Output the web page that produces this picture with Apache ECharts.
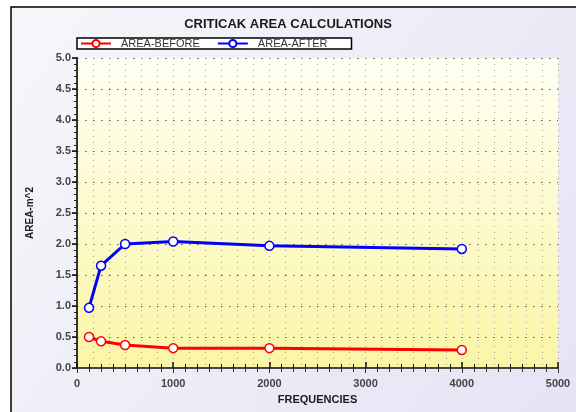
<!DOCTYPE html>
<html>
<head>
<meta charset="utf-8">
<script src="https://cdn.jsdelivr.net/npm/echarts@6/dist/echarts.min.js"></script>
<style>
  html, body { margin: 0; padding: 0; background: #fff; }
  #chart { width: 576px; height: 412px; }
</style>
</head>
<body>
<div id="chart"></div>
<script>
// octave band frequencies (Hz)
const freqs = [125, 250, 500, 1000, 2000, 4000]
// area values
const areaBefore = [0.50, 0.43, 0.37, 0.32, 0.32, 0.29]
const areaAfter = [0.97, 1.65, 2.00, 2.04, 1.97, 1.92]
const seriesNames = ['AREA-BEFORE', 'AREA-AFTER']
const seriesColors = ['#ff0000', '#0000ff']
const xTicks = [0, 1000, 2000, 3000, 4000, 5000]
const yTicks = [0, 0.5, 1, 1.5, 2, 2.5, 3, 3.5, 4, 4.5, 5]

const font = 'Liberation Sans, Arial, sans-serif'
const myChart = echarts.init(document.getElementById('chart'))

const makeSeries = (name, values, color) => ({
  name: name,
  type: 'line',
  data: freqs.map((f, i) => [f, values[i]]),
  lineStyle: {color: color, width: 3},
  symbol: 'circle',
  symbolSize: 9,
  itemStyle: {color: '#fff', borderColor: color, borderWidth: 1.5},
  z: 5
})

const option = {
  animation: false,
  backgroundColor: '#fff',
  graphic: [
    {
      type: 'rect',
      z: -100,
      silent: true,
      shape: {x: 11, y: 7, width: 620, height: 460},
      style: {
        fill: new echarts.graphic.LinearGradient(0, 0, 1, 1, [
          {offset: 0, color: '#f6f6fa'},
          {offset: 1, color: '#e2e2f4'}
        ]),
        stroke: '#000',
        lineWidth: 1.5
      }
    }
  ],
  title: {
    text: 'CRITICAK AREA CALCULATIONS',
    left: 'center',
    top: 13,
    textStyle: {fontFamily: font, fontSize: 13, fontWeight: 'bold', color: '#1a1a1a'}
  },
  legend: {
    data: seriesNames,
    left: 77,
    top: 38,
    padding: [0, 24, 0, 3],
    itemGap: 17,
    itemWidth: 30,
    itemHeight: 9,
    backgroundColor: '#fff',
    borderColor: '#000',
    borderWidth: 1.5,
    borderRadius: 0,
    textStyle: {fontFamily: font, fontSize: 11, color: '#333', padding: [0, 0, 0, 5]}
  },
  grid: {
    left: 77,
    right: 18,
    top: 58,
    bottom: 44,
    show: true,
    borderWidth: 0,
    backgroundColor: new echarts.graphic.LinearGradient(0, 0, 0, 1, [
      {offset: 0, color: '#fffff4'},
      {offset: 1, color: '#faf5a6'}
    ])
  },
  xAxis: [
    {
      type: 'value',
      min: xTicks[0],
      max: xTicks[xTicks.length - 1],
      interval: 1000,
      name: 'FREQUENCIES',
      nameLocation: 'middle',
      nameGap: 26,
      nameTextStyle: {fontFamily: font, fontSize: 11, fontWeight: 'bold', color: '#1a1a1a'},
      axisLine: {lineStyle: {color: '#111', width: 2}},
      axisTick: {inside: true, length: 6, lineStyle: {color: '#111', width: 1.5}},
      minorTick: {show: true, splitNumber: 8, length: 4, lineStyle: {color: '#111'}},
      axisLabel: {fontFamily: font, fontSize: 11, fontWeight: 'bold', color: '#444', margin: 10,
        formatter: v => String(v)},
      splitLine: {show: false}
    },
    {
      type: 'value',
      position: 'top',
      min: xTicks[0],
      max: xTicks[xTicks.length - 1],
      interval: 1000,
      axisLine: {show: true, lineStyle: {color: '#444', width: 2}},
      axisTick: {inside: true, length: 5, lineStyle: {color: '#333'}},
      minorTick: {show: true, splitNumber: 8, length: 4, lineStyle: {color: '#333'}},
      axisLabel: {show: false},
      splitLine: {show: false}
    },
    {
      // light dotted vertical grid
      type: 'value',
      min: 0,
      max: 5000,
      interval: 5000 / 30,
      axisLine: {show: false},
      axisTick: {show: false},
      axisLabel: {show: false},
      splitLine: {show: true, lineStyle: {color: '#a4a48c', width: 1, type: [1, 5]}}
    }
  ],
  yAxis: [
    {
      type: 'value',
      min: yTicks[0],
      max: yTicks[yTicks.length - 1],
      interval: 0.5,
      name: 'AREA-m^2',
      nameLocation: 'middle',
      nameGap: 42,
      nameTextStyle: {fontFamily: font, fontSize: 10, fontWeight: 'bold', color: '#1a1a1a'},
      axisLine: {show: true, lineStyle: {color: '#111', width: 2}},
      axisTick: {length: 5, lineStyle: {color: '#111', width: 1.5}},
      minorTick: {show: true, splitNumber: 5, length: 3, lineStyle: {color: '#111'}},
      axisLabel: {fontFamily: font, fontSize: 11, fontWeight: 'bold', color: '#444', margin: 6,
        formatter: v => v.toFixed(1)},
      splitLine: {show: true, lineStyle: {color: '#555', width: 1.2, type: [1.5, 6.5]}}
    },
    {
      type: 'value',
      position: 'right',
      min: yTicks[0],
      max: yTicks[yTicks.length - 1],
      interval: 0.5,
      axisLine: {show: true, lineStyle: {color: '#333', width: 2}},
      axisTick: {inside: true, length: 5, lineStyle: {color: '#222'}},
      minorTick: {show: true, splitNumber: 5, length: 3, lineStyle: {color: '#222'}},
      axisLabel: {show: false},
      splitLine: {show: false}
    }
  ],
  series: [
    makeSeries(seriesNames[0], areaBefore, seriesColors[0]),
    makeSeries(seriesNames[1], areaAfter, seriesColors[1])
  ]
}
myChart.setOption(option)
</script>
</body>
</html>
